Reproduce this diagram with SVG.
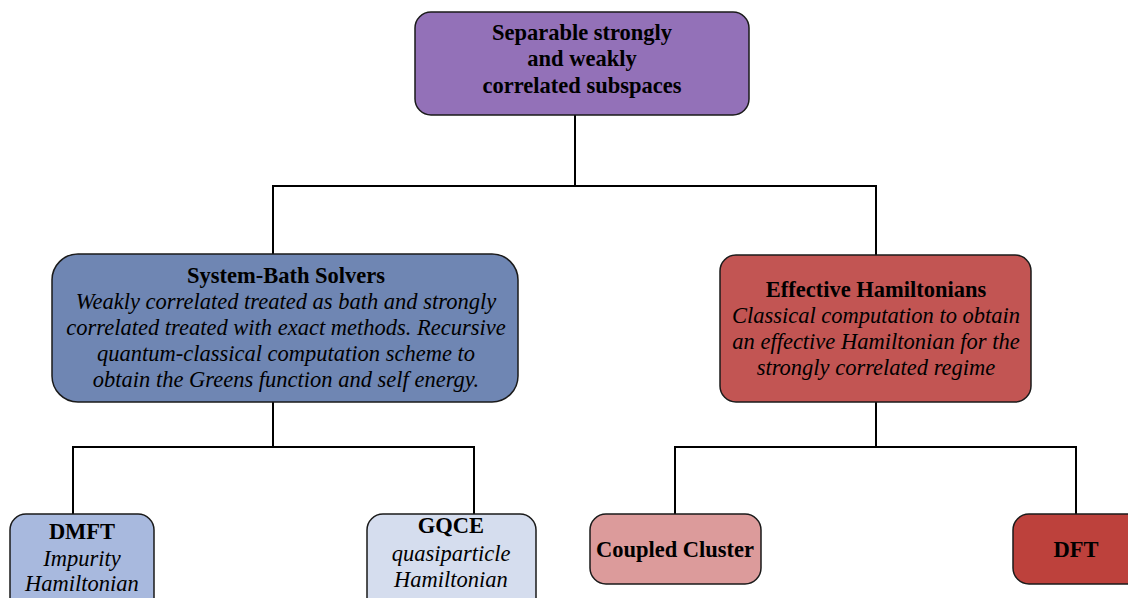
<svg xmlns="http://www.w3.org/2000/svg" width="1128" height="598" viewBox="0 0 1128 598">
<style>
.box{stroke:#1a1a1a;stroke-width:1.5}
.t{font-family:"Liberation Serif","Times New Roman",serif;font-size:22.5px;fill:#000;text-anchor:middle}
.b{font-weight:bold}
.i{font-style:italic}
.c{fill:none;stroke:#000;stroke-width:2}
</style>
<rect width="1128" height="598" fill="#fff"/>
<g id="connectors">
<polyline class="c" points="575,115 575,186"/>
<polyline class="c" points="273,255 273,186 876,186 876,255"/>
<polyline class="c" points="273,402 273,447"/>
<polyline class="c" points="73,514 73,447 474,447 474,514"/>
<polyline class="c" points="876,402 876,447"/>
<polyline class="c" points="675,514 675,447 1076,447 1076,514"/>
</g>
<g id="root">
<rect class="box" x="415" y="12" width="334" height="103" rx="16" fill="#9371b8"/>
<text class="t b" x="582" y="40">Separable strongly</text>
<text class="t b" x="582" y="66">and weakly</text>
<text class="t b" x="582" y="93">correlated subspaces</text>
</g>
<g id="system-bath">
<rect class="box" x="52" y="254" width="466" height="148" rx="26" fill="#6f86b3"/>
<text class="t b" x="286" y="283">System-Bath Solvers</text>
<text class="t i" x="286" y="309">Weakly correlated treated as bath and strongly</text>
<text class="t i" x="286" y="335">correlated treated with exact methods. Recursive</text>
<text class="t i" x="286" y="361">quantum-classical computation scheme to</text>
<text class="t i" x="286" y="387">obtain the Greens function and self energy.</text>
</g>
<g id="effective">
<rect class="box" x="720" y="255" width="311" height="147" rx="16" fill="#c25553"/>
<text class="t b" x="876" y="297">Effective Hamiltonians</text>
<text class="t i" x="876" y="323">Classical computation to obtain</text>
<text class="t i" x="876" y="349">an effective Hamiltonian for the</text>
<text class="t i" x="876" y="375">strongly correlated regime</text>
</g>
<g id="dmft">
<rect class="box" x="10" y="514" width="144" height="100" rx="16" fill="#a8b9de"/>
<text class="t b" x="82" y="539">DMFT</text>
<text class="t i" x="82" y="566">Impurity</text>
<text class="t i" x="82" y="591">Hamiltonian</text>
</g>
<g id="gqce">
<rect class="box" x="367" y="514" width="169" height="100" rx="16" fill="#d5ddee"/>
<text class="t b" x="451" y="533">GQCE</text>
<text class="t i" x="451" y="561">quasiparticle</text>
<text class="t i" x="451" y="587">Hamiltonian</text>
</g>
<g id="coupled-cluster">
<rect class="box" x="590" y="514" width="171" height="70" rx="16" fill="#dc9b9b"/>
<text class="t b" x="675" y="557">Coupled Cluster</text>
</g>
<g id="dft">
<rect class="box" x="1013" y="514" width="130" height="70" rx="16" fill="#bd413c"/>
<text class="t b" x="1076" y="557">DFT</text>
</g>
</svg>
